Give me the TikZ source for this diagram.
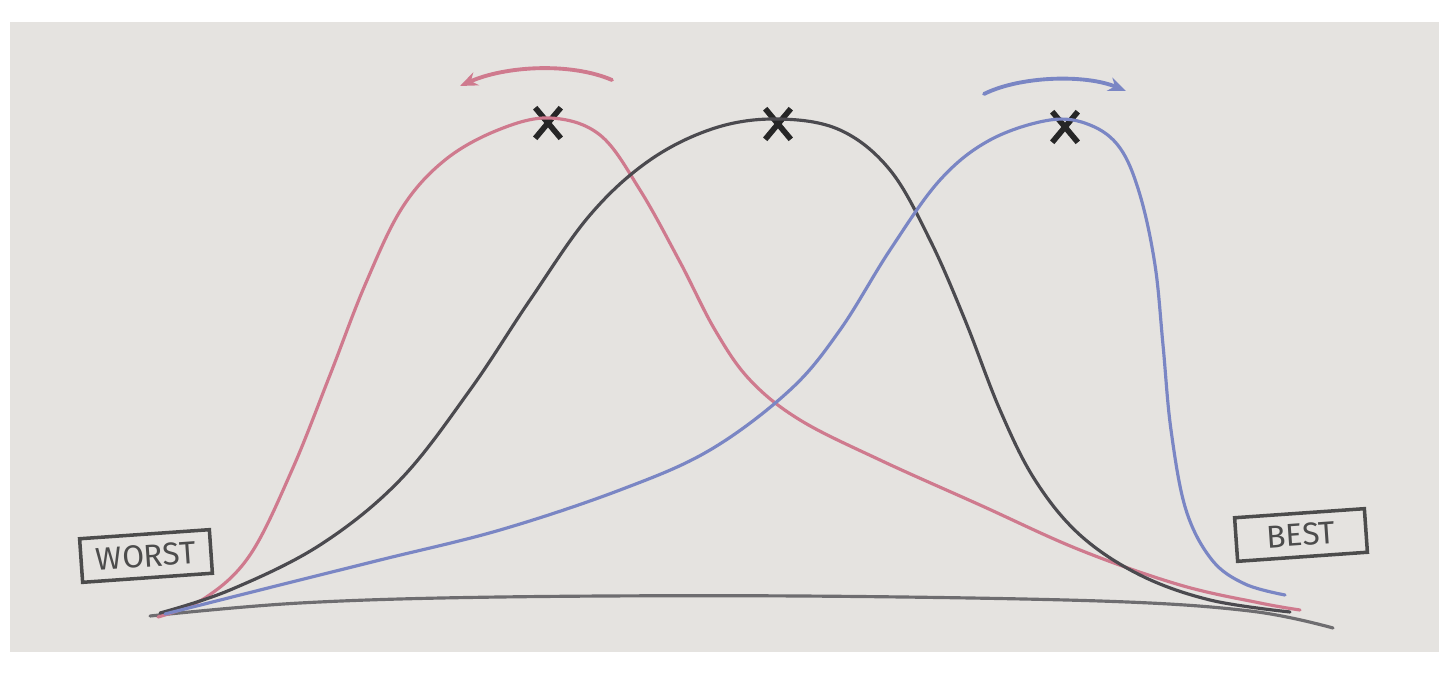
\documentclass[tikz,border=0pt]{standalone}
\usepackage{fontspec}
\setmainfont{Fira Sans}
\usetikzlibrary{arrows.meta,shapes.misc}
\definecolor{paper}{HTML}{E5E3E0}
\definecolor{inkred}{HTML}{CF7A8E}
\definecolor{inkgray}{HTML}{4B4A4F}
\definecolor{inkblue}{HTML}{7A86C4}
\definecolor{inkbase}{HTML}{6E6D70}

\begin{document}
\begin{tikzpicture}[
    x=0.01cm, y=-0.01cm,
    curve/.style={line width=0.9pt, line cap=round},
    arr/.style={-{Stealth[length=5pt, width=4pt]}, line width=1.1pt, line cap=round},
    xmark/.style={cross out, draw=black!85, line width=1.6pt, minimum width=0.2cm,
      minimum height=0.25cm, inner sep=0pt},
    tag/.style={draw=black!70, line width=1pt, font=\fontsize{9}{10}\selectfont, text=black!70,
      inner xsep=4pt, inner ysep=3pt, minimum width=1.3cm},
  ]
    % ===== PAPER =====
    \fill[white] (0,0) rectangle (1439,673);
    \fill[paper] (10,22) rectangle (1439,652);
    \useasboundingbox (0,0) rectangle (1439,673);

    % ===== PEAKS =====
    \node[xmark] (pkR) at (548,123) {};
    \node[xmark] (pkG) at (778,124) {};
    \node[xmark] (pkB) at (1065,127) {};

    % ===== LABELS =====
    \node[tag, rotate=4] (worst) at (146,556) {WORST};
    \node[tag, rotate=4] (best) at (1301,535) {BEST};

    % ===== BASELINE =====
    \draw[curve, inkbase] plot[smooth, tension=0.6] coordinates {
      (150,616) (300,603) (500,597) (800,596) (1100,601) (1250,611) (1333,628)};

    % ===== RED CURVE (shifted left) =====
    \draw[curve, inkred] plot[smooth, tension=0.6] coordinates {
      (158,617) (205,598) (250,555) (292,470) (330,375) (365,285) (402,208)
      (445,160) (498,130) (550,118) (600,135) (640,190) (680,262) (715,330)
      (750,380) (800,420) (880,460) (980,505) (1080,550) (1180,585) (1260,603) (1300,610)};

    % ===== GRAY CURVE (centre) =====
    \draw[curve, inkgray] plot[smooth, tension=0.6] coordinates {
      (160,613) (230,590) (320,545) (400,480) (470,390) (530,300) (590,215)
      (650,160) (715,128) (778,119) (840,130) (890,170) (930,240) (965,320)
      (1000,410) (1035,480) (1080,535) (1140,575) (1210,600) (1290,612)};

    % ===== BLUE CURVE (shifted right) =====
    \draw[curve, inkblue] plot[smooth, tension=0.6] coordinates {
      (165,614) (260,590) (380,560) (500,530) (620,490) (710,450) (790,390)
      (840,330) (890,250) (940,180) (990,140) (1050,120) (1090,125) (1120,148)
      (1140,195) (1155,265) (1163,345) (1171,430) (1186,510) (1212,560) (1245,584) (1285,595)};

    % ===== SHIFT ARROWS =====
    \coordinate (rS) at (612,80);
    \coordinate (rE) at (460,86);
    \draw[arr, inkred] (rS) .. controls (570,62) and (505,66) .. (rE);
    \coordinate (bS) at (984,94);
    \coordinate (bE) at (1126,91);
    \draw[arr, inkblue] (bS) .. controls (1020,76) and (1085,74) .. (bE);
\end{tikzpicture}
\end{document}
